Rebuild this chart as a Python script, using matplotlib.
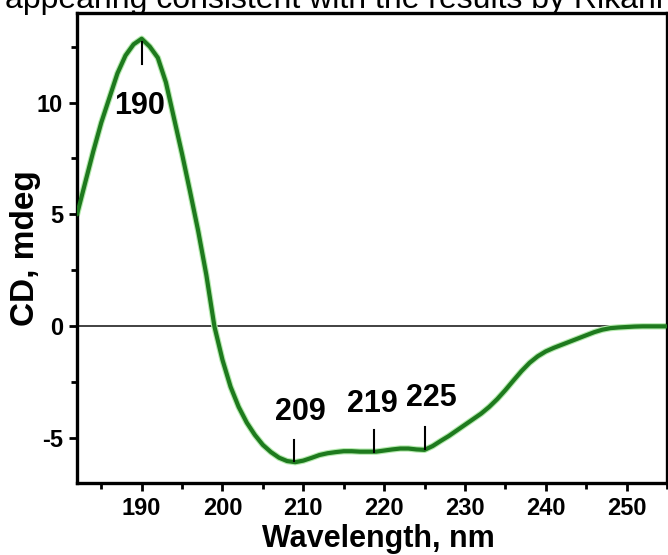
import matplotlib
matplotlib.use("Agg")
import matplotlib.pyplot as plt
from matplotlib.ticker import MultipleLocator

plt.rcParams["font.family"] = ["Liberation Sans", "DejaVu Sans"]
plt.rcParams["axes.unicode_minus"] = False

# CD spectrum
wavelength = [182, 183, 184, 185, 186, 187, 188, 189, 190, 191, 192, 193, 194,
              195, 196, 197, 198, 199, 200, 201, 202, 203, 204, 205, 206, 207,
              208, 209, 210, 211, 212, 213, 214, 215, 216, 217, 218, 219, 220,
              221, 222, 223, 224, 225, 226, 227, 228, 229, 230, 231, 232, 233,
              234, 235, 236, 237, 238, 239, 240, 241, 242, 243, 244, 245, 246,
              247, 248, 249, 250, 251, 252, 253, 254, 255]
cd = [5.0, 6.4, 7.8, 9.1, 10.2, 11.3, 12.1, 12.6, 12.85, 12.5, 12.0, 10.9, 9.3,
      7.7, 6.0, 4.25, 2.3, 0.0, -1.5, -2.7, -3.6, -4.3, -4.85, -5.3, -5.62, -5.87,
      -6.02, -6.07, -6.0, -5.88, -5.75, -5.67, -5.62, -5.58, -5.58, -5.6, -5.6, -5.6, -5.55,
      -5.5, -5.46, -5.46, -5.5, -5.52, -5.35, -5.12, -4.9, -4.65, -4.4, -4.15, -3.9, -3.6,
      -3.25, -2.85, -2.42, -2.0, -1.63, -1.34, -1.12, -0.96, -0.82, -0.68, -0.54, -0.4, -0.26,
      -0.15, -0.08, -0.05, -0.03, -0.01, 0.0, 0.0, 0.0, 0.0]

# marked bands: (label, x of mark, mark top, mark bottom, label x, label y)
peak_labels = ["190", "209", "219", "225"]
peak_x = [190.0, 208.9, 218.7, 225.1]
mark_top = [12.7, -5.1, -4.65, -4.5]
mark_bottom = [11.7, -6.0, -5.6, -5.5]
label_x = [189.7, 209.6, 218.6, 225.8]
label_y = [9.85, -3.85, -3.45, -3.2]

fig = plt.figure(figsize=(6.68, 5.55), dpi=100)
ax = fig.add_axes([77 / 668, 1 - 483 / 555, 590 / 668, 470 / 555])

ax.axhline(0, color="#333333", lw=1.3, zorder=1)
ax.plot(wavelength, cd, color="#b5eaae", lw=4.6, solid_capstyle="round", zorder=2)
ax.plot(wavelength, cd, color="#1e7a1e", lw=3.0, solid_capstyle="round", zorder=3)

for lab, px, t, b, lx, ly in zip(peak_labels, peak_x, mark_top, mark_bottom, label_x, label_y):
    ax.plot([px, px], [b, t], color="black", lw=1.5, zorder=4)
    ax.text(lx, ly, lab, ha="center", va="center", fontsize=22, fontweight="bold")

ax.set_xlim(182, 255)
ax.set_ylim(-7, 14)
ax.xaxis.set_major_locator(MultipleLocator(10))
ax.xaxis.set_minor_locator(MultipleLocator(5))
ax.yaxis.set_major_locator(MultipleLocator(5))
ax.yaxis.set_minor_locator(MultipleLocator(2.5))
ax.set_xticks([190, 200, 210, 220, 230, 240, 250])
ax.tick_params(which="major", direction="out", length=6, width=2, labelsize=17, pad=4)
ax.tick_params(which="minor", direction="out", length=4, width=2)
for lbl in ax.get_xticklabels() + ax.get_yticklabels():
    lbl.set_fontweight("bold")
for sp in ax.spines.values():
    sp.set_linewidth(2.4)

ax.set_xlabel("Wavelength, nm", fontsize=22, fontweight="bold", va="center")
ax.xaxis.set_label_coords(0.51, -0.12)
ax.set_ylabel("CD, mdeg", fontsize=24, fontweight="bold", va="center")
ax.yaxis.set_label_coords(-0.088, 0.5)

fig.text(0.008, 1 - 8 / 555, "appearing consistent with the results by Rikani",
         fontsize=23, va="baseline", ha="left")

fig.savefig("out.png", dpi=100)
